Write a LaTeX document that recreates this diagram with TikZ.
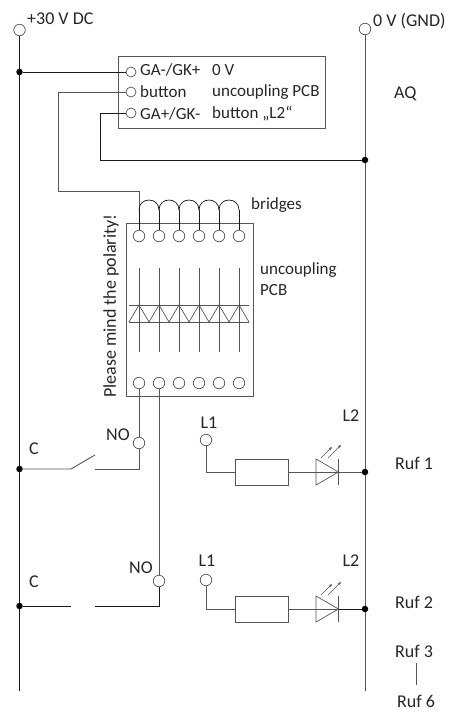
\documentclass[tikz,border=0pt]{standalone}
\usepackage{fontspec}
\setmainfont{Carlito}
\usetikzlibrary{arrows.meta,calc}
\definecolor{wg}{HTML}{555555}
\tikzset{
 wk/.style={draw=black!90,line width=0.8pt},
 wgy/.style={draw=wg,line width=0.9pt},
 term/.style={circle,draw=wg,fill=white,line width=0.7pt,minimum size=11.5pt,inner sep=0pt},
 sterm/.style={term,minimum size=10pt},
 jn/.style={circle,fill=black,minimum size=6.5pt,inner sep=0pt},
 lbl/.style={font=\fontsize{17}{17}\selectfont,inner sep=0pt,text=black!85},
 lblb/.style={font=\fontsize{18}{18}\selectfont,inner sep=0pt,text=black!85},
 led/.style={-{Stealth[length=3.5pt,width=3pt]},draw=wg,line width=0.6pt},
}
\begin{document}
\begin{tikzpicture}[x=1pt,y=-1pt]
\useasboundingbox (0,0) rectangle (448,713);
% rails
\node[term] (vp) at (19.5,30) {};
\node[term] (vn) at (365,29) {};
\coordinate (vpe) at (19.5,691);
\coordinate (vne) at (365,691);
\draw[wk] (vp) -- (vpe);
\draw[wgy] (vn) -- (vne);
% junctions
\node[jn] (j1) at (19.5,72) {};
\node[jn] (j2) at (19.5,469) {};
\node[jn] (j3) at (19.5,606) {};
\node[jn] (j4) at (365,160) {};
\node[jn] (j5) at (365,472) {};
\node[jn] (j6) at (365,609) {};
% AQ box
\node[draw=wg,line width=0.7pt,minimum width=207.5pt,minimum height=72pt,inner sep=0pt] (aq) at (222,92.5) {};
\node[sterm] (a1) at (131,72) {};
\node[sterm] (a2) at (131,92) {};
\node[sterm] (a3) at (131,113) {};
\draw[wk] (j1) -- (a1);
\draw[wgy] (a2) -| (58,191) -- (139,191) coordinate (bt);
\draw[wk] (a3) -| (100,160) -- (j4);
% PCB
\node[draw=wg,line width=0.7pt,minimum width=127pt,minimum height=173pt,inner sep=0pt] (pcb) at (189.5,309.5) {};
\foreach \i/\x in {1/139,2/159,3/179,4/199,5/219,6/239}{
  \node[term] (t\i) at (\x,236) {};
  \node[term] (b\i) at (\x,383) {};
  \coordinate (br\i) at (\x,210);
  \coordinate (ds\i) at (\x,268);
  \coordinate (de\i) at (\x,352);
  \draw[wk] (br\i) -- (t\i);
  \draw[wgy] (ds\i) -- (de\i);
  \coordinate (ap\i) at (\x,305);
  \coordinate (cl\i) at (\x-10,322);
  \coordinate (cr\i) at (\x+10,322);
  \draw[wgy,line width=0.7pt,line join=miter] (cl\i) -- (ap\i) -- (cr\i);
}
\draw[wgy] (bt) -- (br1);
\foreach \a/\b in {1/2,2/3,3/4,4/5,5/6}
  \draw[wk,line width=0.7pt] (br\a) .. controls +(0,-13.3) and +(0,-13.3) .. (br\b);
\coordinate (d1) at (129,305); \coordinate (d2) at (249,305);
\coordinate (d3) at (129,322); \coordinate (d4) at (249,322);
\draw[wgy] (d1) -- (d2);
\draw[wgy] (d3) -- (d4);
% contacts
\node[term] (no1) at (139,443) {};
\node[term] (no2) at (159,581) {};
\draw[wgy] (b1) -- (no1);
\draw[wgy] (b2) -- (no2);
\coordinate (s1a) at (71,469); \coordinate (s1b) at (95,455); \coordinate (s1c) at (95,469);
\coordinate (s2a) at (71,606); \coordinate (s2c) at (95,606);
\draw[wgy] (j2) -- (s1a) -- (s1b);
\draw[wgy] (s1c) -| (no1);
\draw[wk] (j3) -- (s2a);
\draw[wk] (s2c) -| (no2);
% LED branches
\foreach \n/\y/\ly in {1/472/440,2/609/580}{
  \node[term] (l\n) at (206,\ly) {};
  \node[draw=wg,line width=0.8pt,minimum width=53pt,minimum height=26pt,inner sep=0pt] (r\n) at (261.5,\y) {};
  \coordinate (da\n) at (316,\y);
  \coordinate (db\n) at (338.5,\y);
  \draw[wgy] (l\n) |- (r\n);
  \draw[wgy] (r\n) -- (da\n);
  \draw[wgy,line width=0.7pt] (316,\y-13) -- (db\n) -- (316,\y+13) -- cycle;
  \draw[wgy] (338.5,\y-13) -- (338.5,\y+13);
  \draw[wgy] (da\n) -- (db\n);
}
\draw[wgy] (db1) -- (j5);
\draw[wk] (db2) -- (j6);
\foreach \n/\y in {1/472,2/609}{
  \coordinate (la\n) at (321,\y-14); \coordinate (lb\n) at (332,\y-25);
  \coordinate (lc\n) at (328,\y-14); \coordinate (ld\n) at (341,\y-27);
  \draw[led] (la\n) -- (lb\n);
  \draw[led] (lc\n) -- (ld\n);
}
\coordinate (ru1) at (416,663); \coordinate (ru2) at (416,685);
\draw[wgy,line width=0.6pt] (ru1) -- (ru2);
% labels
\node[lblb,anchor=west] (t30) at (27,19) {+30 V DC};
\node[lblb,anchor=west] (t0) at (373,21) {0 V (GND)};
\node[lbl,anchor=west] (tg1) at (140,70) {GA-/GK+};
\node[lbl,anchor=west] (tg1b) at (212,70) {0 V};
\node[lbl,anchor=west] (tb) at (140,92) {button};
\node[lbl,anchor=west] (tu) at (212,92) {uncoupling PCB};
\node[lbl,anchor=west] (tg2) at (140,114) {GA+/GK-};
\node[lbl,anchor=west] (tb2) at (212,114) {button „L2“};
\node[lblb,anchor=west] (taq) at (394,94) {AQ};
\node[lbl,anchor=west] (tbr) at (251,205) {bridges};
\node[lbl,anchor=west] (tun) at (260,270) {uncoupling};
\node[lbl,anchor=west] (tpc) at (260,290) {PCB};
\node[lblb,rotate=90,anchor=west] (tpl) at (111,398) {Please mind the polarity!};
\node[lblb] (tc1) at (34,449) {C};
\node[lblb] (tc2) at (34,582) {C};
\node[lblb] (tn1) at (118,435) {NO};
\node[lblb] (tn2) at (141,568) {NO};
\node[lblb] (tl1) at (209,423) {L1};
\node[lblb] (tl2) at (207,561) {L1};
\node[lblb] (tl3) at (351,416) {L2};
\node[lblb] (tl4) at (351,561) {L2};
\node[lblb,anchor=west] (tr1) at (395,463) {Ruf 1};
\node[lblb,anchor=west] (tr2) at (395,602) {Ruf 2};
\node[lblb,anchor=west] (tr3) at (395,651) {Ruf 3};
\node[lblb,anchor=west] (tr6) at (397,701) {Ruf 6};
\end{tikzpicture}
\end{document}
